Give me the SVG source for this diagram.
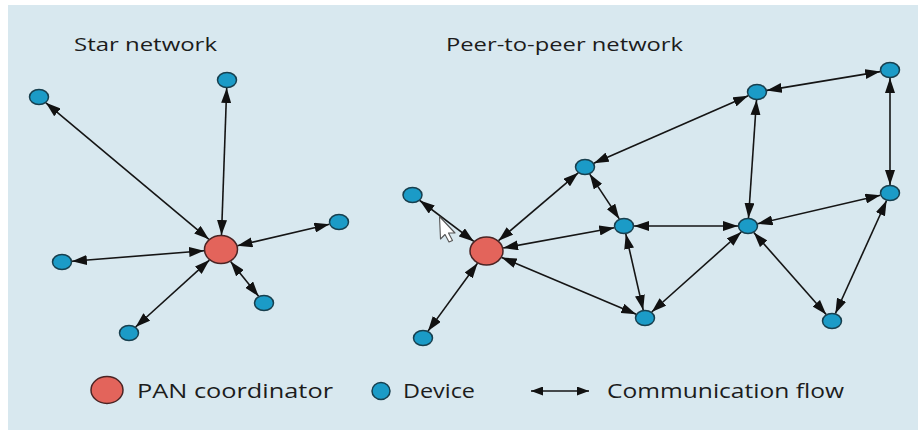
<svg xmlns="http://www.w3.org/2000/svg" width="918" height="430" viewBox="0 0 918 430">
<style>
.dev{fill:#1b9bc7;stroke:#173f4e;stroke-width:1.5}
.pan{fill:#e3645b;stroke:#4a2424;stroke-width:1.5}
.edge{stroke:#151515;stroke-width:1.6;fill:none;marker-start:url(#ah);marker-end:url(#ah)}
.legedge{stroke:#151515;stroke-width:1.6;fill:none;marker-start:url(#ahs);marker-end:url(#ahs)}
.t{font-family:"Open Sans","DejaVu Sans",sans-serif;fill:#1c1c1c}
.title{font-size:19px}
.leg{font-size:20.5px}
</style>
<defs>
<marker id="ah" viewBox="0 0 15 10" markerWidth="15" markerHeight="10" refX="15" refY="5" markerUnits="userSpaceOnUse" orient="auto-start-reverse">
<path d="M0,0 L15,5 L0,10 Z" fill="#111"/>
</marker>
<marker id="ahs" viewBox="0 0 12 9" markerWidth="12" markerHeight="9" refX="12" refY="4.5" markerUnits="userSpaceOnUse" orient="auto-start-reverse">
<path d="M0,0 L12,4.5 L0,9 Z" fill="#111"/>
</marker>
</defs>
<rect x="8" y="5" width="910" height="425" fill="#d8e8ef"/>
<text class="t title" x="74" y="51" textLength="143" lengthAdjust="spacingAndGlyphs">Star network</text>
<text class="t title" x="446" y="51" textLength="237" lengthAdjust="spacingAndGlyphs">Peer-to-peer network</text>
<g id="connectors">
<line class="edge" x1="221.5" y1="235" x2="226.7" y2="88"/>
<line class="edge" x1="208.9" y1="239.3" x2="45.9" y2="102.8"/>
<line class="edge" x1="237.4" y1="245.7" x2="329.4" y2="224.2"/>
<line class="edge" x1="204.1" y1="250.8" x2="71.9" y2="261.2"/>
<line class="edge" x1="230.6" y1="261.5" x2="258.6" y2="296.3"/>
<line class="edge" x1="209.4" y1="260.1" x2="135.6" y2="327"/>
<line class="edge" x1="419.8" y1="200.5" x2="473.8" y2="241.4"/>
<line class="edge" x1="477.5" y1="263.3" x2="428" y2="331.1"/>
<line class="edge" x1="498.5" y1="240.7" x2="578.2" y2="172.8"/>
<line class="edge" x1="503.1" y1="248" x2="614.3" y2="227.8"/>
<line class="edge" x1="501.7" y1="257.4" x2="636.2" y2="314.3"/>
<line class="edge" x1="593.8" y1="163.2" x2="748.2" y2="95.8"/>
<line class="edge" x1="589.7" y1="174.1" x2="619.3" y2="218.9"/>
<line class="edge" x1="634" y1="226" x2="738" y2="226"/>
<line class="edge" x1="625.8" y1="233.9" x2="643.2" y2="310.1"/>
<line class="edge" x1="651.7" y1="312" x2="741.3" y2="232"/>
<line class="edge" x1="766.8" y1="90.4" x2="880.2" y2="71.6"/>
<line class="edge" x1="756.5" y1="100" x2="748.5" y2="218"/>
<line class="edge" x1="890" y1="78" x2="890" y2="185"/>
<line class="edge" x1="880.4" y1="195.2" x2="757.6" y2="223.8"/>
<line class="edge" x1="753.8" y1="232.5" x2="826.2" y2="314.5"/>
<line class="edge" x1="886.6" y1="200.5" x2="835.4" y2="313.5"/>
</g>
<g id="star-pan"><ellipse class="pan" cx="221" cy="249.5" rx="16.5" ry="14"/></g>
<g id="star-d1"><ellipse class="dev" cx="227" cy="80" rx="9.5" ry="7.5"/></g>
<g id="star-d2"><ellipse class="dev" cx="39" cy="97" rx="9.5" ry="7.5"/></g>
<g id="star-d3"><ellipse class="dev" cx="339" cy="222" rx="9.5" ry="7.5"/></g>
<g id="star-d4"><ellipse class="dev" cx="62" cy="262" rx="9.5" ry="7.5"/></g>
<g id="star-d5"><ellipse class="dev" cx="264" cy="303" rx="9.5" ry="7.5"/></g>
<g id="star-d6"><ellipse class="dev" cx="129" cy="333" rx="9.5" ry="7.5"/></g>
<g id="p2p-pan"><ellipse class="pan" cx="486.5" cy="251" rx="16.5" ry="14"/></g>
<g id="p2p-a"><ellipse class="dev" cx="412.5" cy="195" rx="9.5" ry="7.5"/></g>
<g id="p2p-b"><ellipse class="dev" cx="423" cy="338" rx="9.5" ry="7.5"/></g>
<g id="p2p-d"><ellipse class="dev" cx="585" cy="167" rx="9.5" ry="7.5"/></g>
<g id="p2p-e"><ellipse class="dev" cx="624" cy="226" rx="9.5" ry="7.5"/></g>
<g id="p2p-f"><ellipse class="dev" cx="645" cy="318" rx="9.5" ry="7.5"/></g>
<g id="p2p-g"><ellipse class="dev" cx="757" cy="92" rx="9.5" ry="7.5"/></g>
<g id="p2p-h"><ellipse class="dev" cx="890" cy="70" rx="9.5" ry="7.5"/></g>
<g id="p2p-i"><ellipse class="dev" cx="748" cy="226" rx="9.5" ry="7.5"/></g>
<g id="p2p-j"><ellipse class="dev" cx="890" cy="193" rx="9.5" ry="7.5"/></g>
<g id="p2p-k"><ellipse class="dev" cx="832" cy="321" rx="9.5" ry="7.5"/></g>
<path d="M439.5,216.5 L440.5,239 L445,234.5 L449,242 L452.5,240.5 L448.5,233 L455,233 Z" fill="#fff" stroke="#555" stroke-width="1.1" stroke-linejoin="round"/>
<g id="legend">
<ellipse class="pan" cx="107" cy="390" rx="16" ry="13.5"/>
<text class="t leg" x="137" y="397.5" textLength="196" lengthAdjust="spacingAndGlyphs">PAN coordinator</text>
<ellipse class="dev" cx="381" cy="391" rx="9" ry="8.5"/>
<text class="t leg" x="403" y="397.5" textLength="72" lengthAdjust="spacingAndGlyphs">Device</text>
<line class="legedge" x1="531" y1="391" x2="589" y2="391"/>
<text class="t leg" x="607" y="397.5" textLength="237" lengthAdjust="spacingAndGlyphs">Communication flow</text>
</g>
</svg>
